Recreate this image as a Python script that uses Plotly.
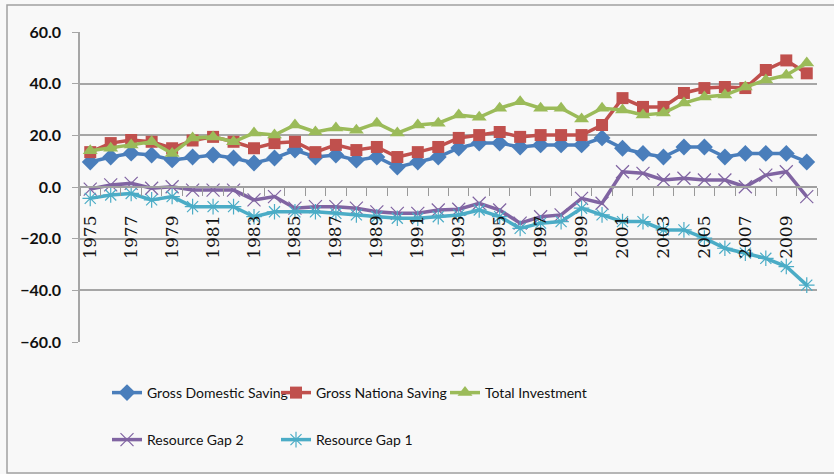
import plotly.graph_objects as go

years = [1975, 1976, 1977, 1978, 1979, 1980, 1981, 1982, 1983, 1984, 1985, 1986,
         1987, 1988, 1989, 1990, 1991, 1992, 1993, 1994, 1995, 1996, 1997, 1998,
         1999, 2000, 2001, 2002, 2003, 2004, 2005, 2006, 2007, 2008, 2009, 2010]

gross_domestic_saving = [9.7, 11.6, 13.1, 12.4, 10.5, 11.6, 12.4, 11.2, 9.3, 11.2, 14.3, 11.6,
                         12.4, 10.4, 11.6, 7.7, 9.7, 11.6, 15.1, 17.0, 17.0, 15.5, 16.3, 16.3,
                         16.3, 19.0, 15.0, 13.0, 11.6, 15.5, 15.5, 11.6, 13.0, 13.0, 13.0, 9.7]

gross_national_saving = [13.5, 17.0, 18.2, 17.5, 15.0, 18.0, 19.4, 17.5, 15.0, 17.0, 17.5, 13.5,
                         16.3, 14.3, 15.5, 11.6, 13.5, 15.5, 19.0, 20.1, 21.3, 19.4, 20.1, 20.1,
                         20.1, 24.0, 34.4, 31.0, 31.0, 36.4, 38.3, 38.7, 38.3, 45.3, 49.0, 44.0]

total_investment = [14.0, 15.0, 16.3, 17.5, 13.0, 19.0, 19.4, 17.5, 20.9, 20.1, 24.0, 21.3,
                    22.8, 22.0, 24.7, 20.9, 24.0, 24.7, 27.9, 27.0, 30.5, 33.0, 30.5, 30.5,
                    26.3, 30.5, 29.8, 27.9, 28.6, 32.5, 34.8, 35.6, 38.7, 41.4, 43.3, 48.0]

resource_gap_2 = [-0.8, 0.8, 1.4, -0.5, 0.1, -1.2, -1.2, -1.2, -5.0, -3.7, -8.2, -7.6,
                  -7.6, -8.2, -9.6, -10.2, -10.2, -8.9, -8.6, -6.3, -8.9, -14.0, -11.5, -10.8,
                  -4.4, -6.3, 5.9, 5.3, 2.7, 3.4, 2.7, 2.7, 0.1, 4.6, 5.9, -3.7]

resource_gap_1 = [-4.4, -3.1, -2.5, -5.0, -3.7, -7.6, -7.6, -7.6, -11.5, -9.6, -9.6, -9.6,
                  -10.2, -10.8, -11.5, -12.1, -12.1, -11.5, -10.8, -8.9, -11.5, -16.0, -14.0, -13.4,
                  -8.2, -10.8, -13.4, -13.4, -16.6, -16.6, -19.8, -23.7, -25.6, -27.6, -30.8, -38.0]

tick_years = [1975, 1977, 1979, 1981, 1983, 1985, 1987, 1989, 1991, 1993, 1995, 1997,
              1999, 2001, 2003, 2005, 2007, 2009]
y_ticks = [60, 40, 20, 0, -20, -40, -60]

W, H = 834, 474
ML, MR, MT, MB = 80, 17, 32, 132
pw, ph = W - ML - MR, H - MT - MB

def px_x(p):
    return (p - ML) / pw

def px_y(p):
    return (H - MB - p) / ph

legend_font = dict(family="Lato, Roboto, sans-serif", size=14, color="#111111")

series = [
    ("Gross Domestic Saving", gross_domestic_saving, "#4A7EBB",
     dict(symbol="diamond", size=13), "legend"),
    ("Gross Nationa Saving", gross_national_saving, "#C0504D",
     dict(symbol="square", size=12), "legend"),
    ("Total Investment", total_investment, "#9BBB59",
     dict(symbol="triangle-up", size=13), "legend"),
    ("Resource Gap 2", resource_gap_2, "#8064A2",
     dict(symbol="x-thin-open", size=13, line=dict(width=1.2, color="#8064A2")), "legend2"),
    ("Resource Gap 1", resource_gap_1, "#4BACC6",
     dict(symbol="asterisk-open", size=13, line=dict(width=1.2, color="#4BACC6")), "legend2"),
]

fig = go.Figure()
for name, vals, color, marker, leg in series:
    fig.add_trace(go.Scatter(
        x=years, y=vals, name=name, mode="lines+markers",
        line=dict(color=color, width=3.5),
        marker=dict(color=color, **marker),
        legend=leg,
    ))

boundaries = [y - 0.5 for y in years] + [years[-1] + 0.5]

fig.update_layout(
    width=W, height=H,
    margin=dict(l=ML, r=MR, t=MT, b=MB),
    paper_bgcolor="#F8F8F8", plot_bgcolor="#F8F8F8",
    showlegend=True,
    legend=dict(orientation="h", x=px_x(107), y=px_y(393), xanchor="left", yanchor="middle",
                font=legend_font, entrywidth=124, entrywidthmode="pixels",
                bgcolor="rgba(0,0,0,0)", itemwidth=30),
    legend2=dict(orientation="h", x=px_x(107), y=px_y(440), xanchor="left", yanchor="middle",
                 font=legend_font, entrywidth=124, entrywidthmode="pixels",
                 bgcolor="rgba(0,0,0,0)", itemwidth=30),
    xaxis=dict(
        range=[years[0] - 0.5, years[-1] + 0.5],
        anchor="free", position=0.5,
        tickmode="array", tickvals=tick_years, ticktext=[str(t) for t in tick_years],
        tickangle=-90, ticks="outside", ticklen=21, tickcolor="rgba(0,0,0,0)",
        tickfont=dict(family="DejaVu Serif, Liberation Serif, serif", size=17, color="#111111"),
        showgrid=False, zeroline=False,
        showline=True, linecolor="#A0A0A0", linewidth=1.5,
        minor=dict(tickmode="array", tickvals=boundaries, ticks="outside",
                   ticklen=8, tickcolor="#999999", tickwidth=1.3, showgrid=False),
    ),
    yaxis=dict(
        range=[-60, 60], tickmode="array", tickvals=y_ticks, tickformat=".1f",
        tickfont=dict(family="Lato, Roboto, sans-serif", size=16, color="#111111", weight="bold"),
        ticklabelstandoff=8,
        showgrid=True, gridcolor="#A6A6A6", gridwidth=1.5,
        zeroline=False, showline=True, linecolor="#A6A6A6", linewidth=1.5,
        ticks="outside", ticklen=6, tickcolor="#A6A6A6",
    ),
    shapes=[dict(type="rect", xref="paper", yref="paper",
                 x0=px_x(7), x1=px_x(845), y0=px_y(473), y1=px_y(5),
                 line=dict(color="#A0A0A0", width=1.5), layer="below")],
)

fig.write_html("out.html", config={"displayModeBar": False},
               post_script="document.body.style.margin='0px';")
